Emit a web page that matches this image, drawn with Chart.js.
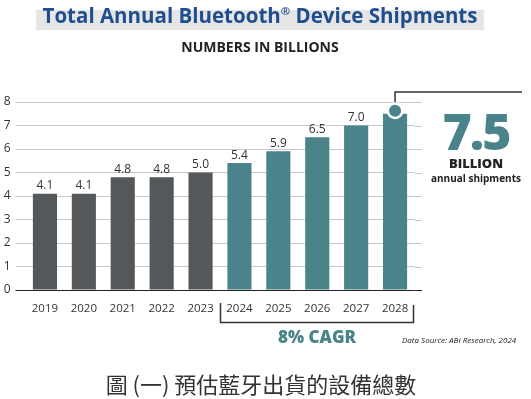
<!DOCTYPE html>
<html>
<head>
<meta charset="utf-8">
<script src="https://cdn.jsdelivr.net/npm/chart.js@4"></script>
<style>
  body { margin: 0; background: #fff; }
  #wrap { position: relative; width: 531px; height: 399px; overflow: hidden; font-family: 'Open Sans', sans-serif; }
  #miGrafico { position: absolute; left: 0; top: 0; }
  .txt { position: absolute; white-space: nowrap; line-height: 1; }
  #band { position: absolute; left: 36px; top: 10px; width: 448px; height: 20px; background: #e6e6e6; }
  #title { left: 0; width: 520px; text-align: center; top: 5px; font-size: 20.5px; font-weight: 700; color: #1f4e8f; }
  #title sup { font-size: 0.55em; vertical-align: 0; position: relative; top: -0.7em; }
  #sub { left: 0; width: 520px; text-align: center; top: 40px; font-size: 14px; font-weight: 700; color: #222; }
  #big { left: 420px; width: 112px; text-align: center; top: 106px; font-size: 50px; font-weight: 800; color: #4a838a; letter-spacing: -2px; }
  #billion { left: 420px; width: 112px; text-align: center; top: 157px; font-size: 13px; font-weight: 800; color: #222; }
  #annual { left: 420px; width: 112px; text-align: center; top: 173px; font-size: 10px; font-weight: 700; color: #222; }
  #cagr { left: 217px; width: 200px; text-align: center; top: 328px; font-size: 17px; font-weight: 800; color: #4a838a; }
  #source { left: 402px; top: 336px; font-size: 8px; font-style: italic; color: #222; }
  #caption { left: 0; width: 522px; text-align: center; top: 372px; font-size: 22px; color: #333; font-family: 'Noto Sans CJK TC', sans-serif; }
</style>
</head>
<body>
<div id="wrap">
  <canvas id="miGrafico" width="531" height="399"></canvas>
  <div id="band"></div>
  <div class="txt" id="title">Total Annual Bluetooth<sup>®</sup> Device Shipments</div>
  <div class="txt" id="sub">NUMBERS IN BILLIONS</div>
  <div class="txt" id="big">7.5</div>
  <div class="txt" id="billion">BILLION</div>
  <div class="txt" id="annual">annual shipments</div>
  <div class="txt" id="cagr">8% CAGR</div>
  <div class="txt" id="source">Data Source: ABI Research, 2024</div>
  <div class="txt" id="caption">圖 (一) 預估藍牙出貨的設備總數</div>
</div>
<script>
const years = ['2019', '2020', '2021', '2022', '2023', '2024', '2025', '2026', '2027', '2028']
const shipments = [4.1, 4.1, 4.8, 4.8, 5.0, 5.4, 5.9, 6.5, 7.0, 7.5]
const yTicks = [0, 1, 2, 3, 4, 5, 6, 7, 8]
const firstForecast = '2024'

const gris = '#55585a'
const verdeAzul = '#4a838a'
const barColors = years.map((y) => (y >= firstForecast ? verdeAzul : gris))

Chart.defaults.font.family = "'Open Sans', sans-serif"

// grid lines go a bit past the bars on the right, plus labels, bracket and callout
const extras = {
  id: 'extras',
  beforeDatasetsDraw(chart) {
    const { ctx, chartArea, scales } = chart
    ctx.save()
    ctx.lineWidth = 1
    yTicks.forEach((v) => {
      const y = Math.round(scales.y.getPixelForValue(v)) + 0.5
      ctx.strokeStyle = v === 0 ? '#222' : '#c8c8c8'
      ctx.beginPath()
      ctx.moveTo(chartArea.right, y)
      ctx.lineTo(422, y)
      ctx.stroke()
    })
    ctx.restore()
  },
  afterDatasetsDraw(chart) {
    const { ctx, scales } = chart
    const meta = chart.getDatasetMeta(0)
    ctx.save()
    // etiquetas de valor
    ctx.fillStyle = '#333'
    ctx.font = "12px 'Open Sans'"
    ctx.textAlign = 'center'
    ctx.textBaseline = 'bottom'
    meta.data.forEach((bar, i) => {
      if (i === years.length - 1) return
      ctx.fillText(shipments[i].toFixed(1), bar.x, bar.y - 2)
    })
    // callout del ultimo
    const last = meta.data[years.length - 1]
    const cy = last.y - 3
    ctx.strokeStyle = '#333'
    ctx.lineWidth = 1.5
    ctx.beginPath()
    ctx.moveTo(last.x, cy - 6)
    ctx.lineTo(last.x, 92)
    ctx.lineTo(522, 92)
    ctx.stroke()
    ctx.fillStyle = '#fff'
    ctx.beginPath()
    ctx.arc(last.x, cy, 8.5, 0, Math.PI * 2)
    ctx.fill()
    ctx.fillStyle = verdeAzul
    ctx.beginPath()
    ctx.arc(last.x, cy, 6, 0, Math.PI * 2)
    ctx.fill()
    // corchete de la prevision
    const i0 = years.indexOf(firstForecast)
    const xl = Math.round((scales.x.getPixelForValue(i0 - 1) + scales.x.getPixelForValue(i0)) / 2) + 0.5
    const xr = Math.round(scales.x.getPixelForValue(years.length - 1) + 18) + 0.5
    ctx.beginPath()
    ctx.moveTo(xl, 303)
    ctx.lineTo(xl, 322.5)
    ctx.lineTo(xr, 322.5)
    ctx.lineTo(xr, 305)
    ctx.stroke()
    ctx.restore()
  },
}

const ctx = document.getElementById('miGrafico').getContext('2d')
const myChart = new Chart(ctx, {
  type: 'bar',
  data: {
    labels: years,
    datasets: [
      {
        data: shipments,
        backgroundColor: barColors,
        barPercentage: 0.62,
        categoryPercentage: 1,
      },
    ],
  },
  options: {
    responsive: false,
    animation: false,
    layout: { padding: { left: 0.5, right: 116.5, top: 102, bottom: 79 } },
    plugins: { legend: { display: false }, tooltip: { enabled: false } },
    scales: {
      x: {
        afterFit: (s) => { s.height = 30 },
        grid: { display: false },
        border: { display: false },
        ticks: { color: '#333', font: { size: 11.5 }, padding: 4 },
      },
      y: {
        min: 0,
        max: 8,
        afterFit: (s) => { s.width = 25 },
        afterBuildTicks: (s) => { s.ticks = yTicks.map((v) => ({ value: v })) },
        border: { display: false },
        grid: {
          color: (c) => (c.tick && c.tick.value === 0 ? '#222' : '#c8c8c8'),
          tickLength: 10,
          lineWidth: 1,
        },
        ticks: { color: '#333', font: { size: 12 }, padding: 5 },
      },
    },
  },
  plugins: [extras],
})
</script>
</body>
</html>
